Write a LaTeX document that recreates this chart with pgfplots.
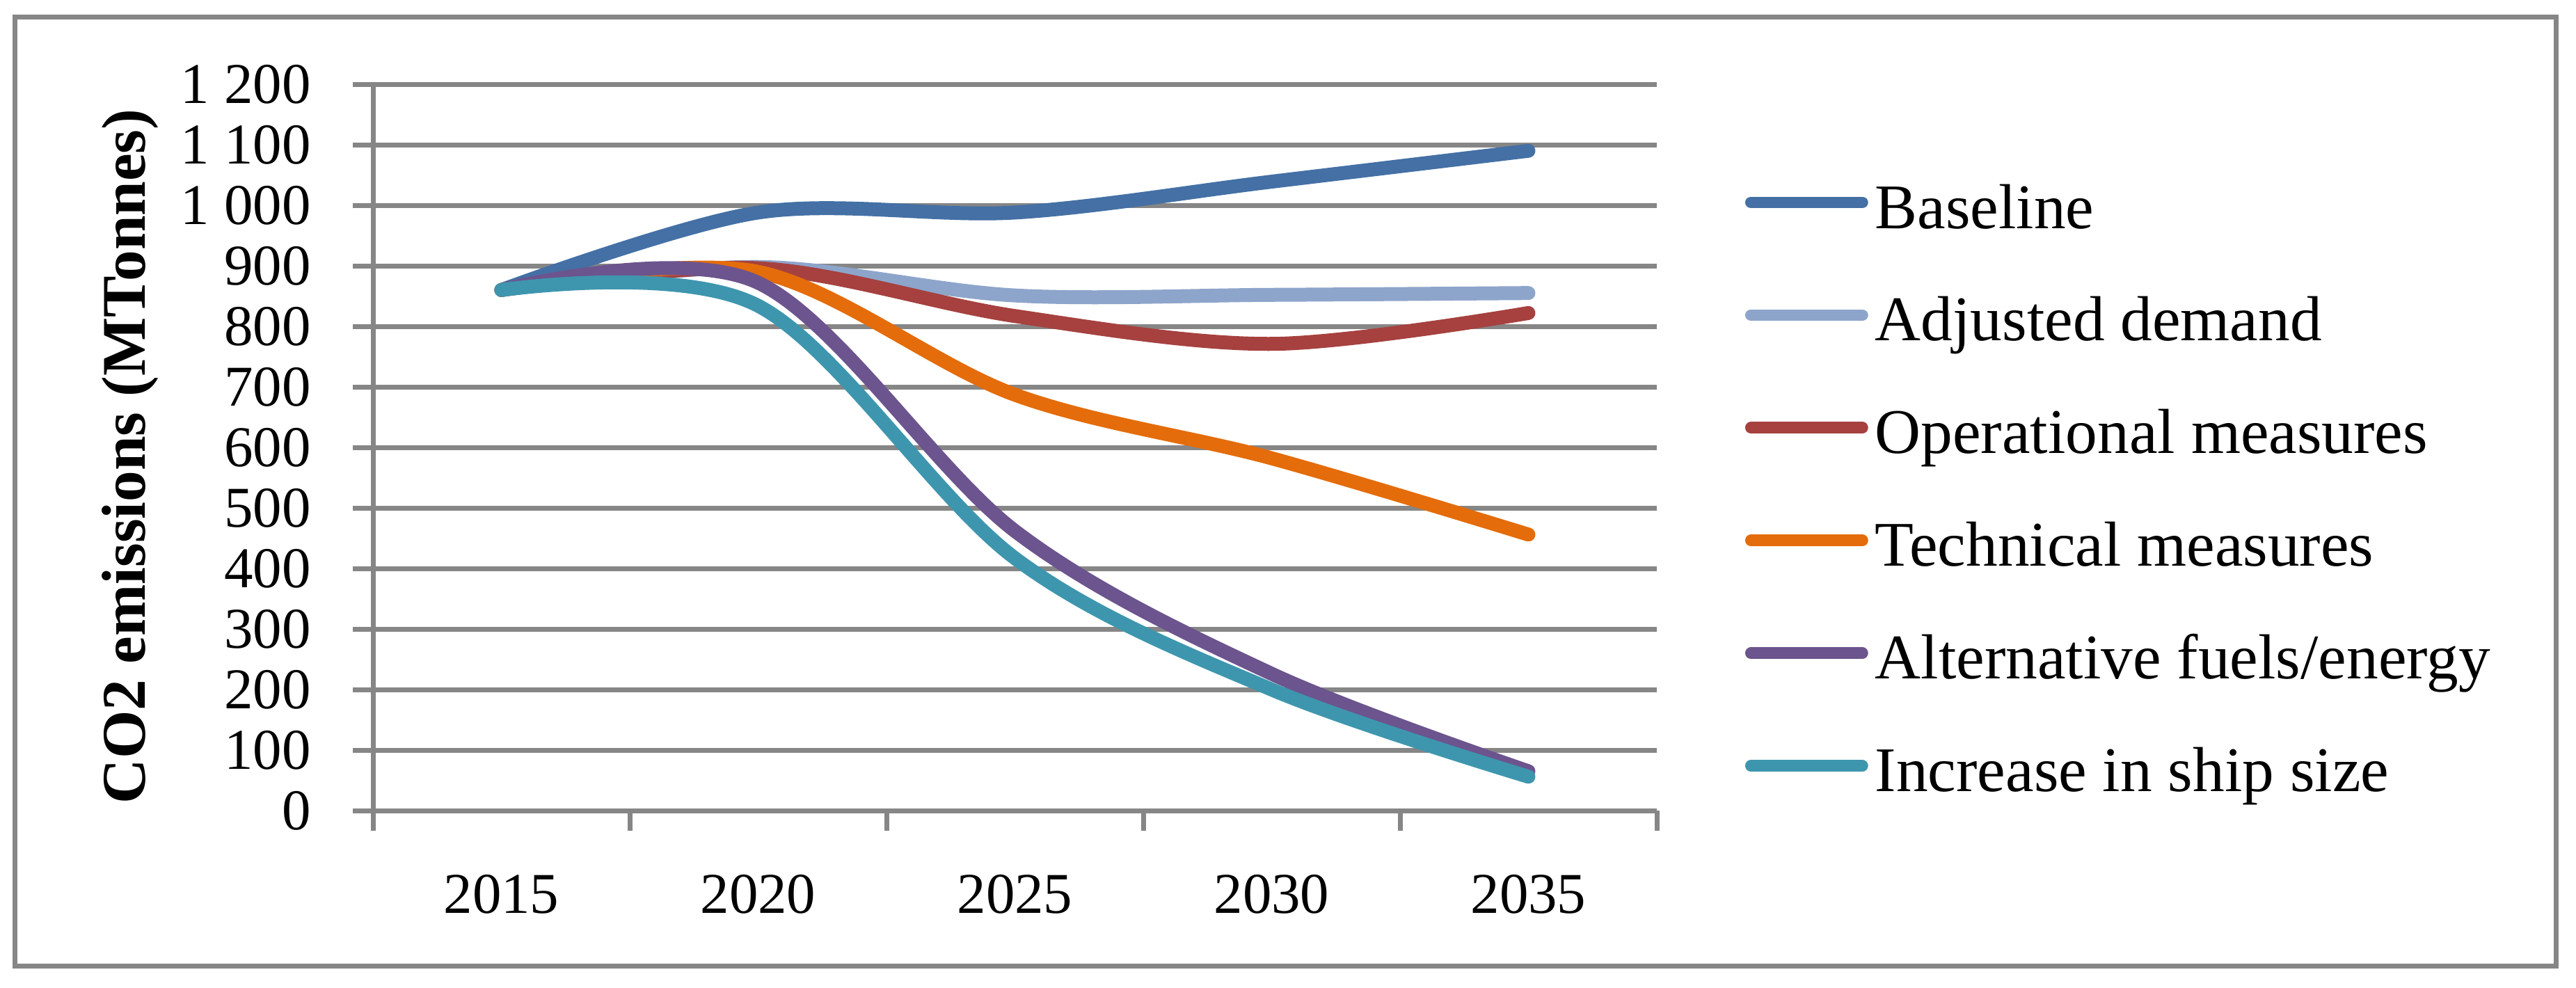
\documentclass[border=0pt]{standalone}
\usepackage{pgfplots}
\pgfplotsset{compat=1.18}
\usepackage{fontspec}
\setmainfont{Liberation Serif}

\definecolor{cBaseline}{RGB}{68,112,165}
\definecolor{cAdjusted}{RGB}{142,165,203}
\definecolor{cOperational}{RGB}{166,65,63}
\definecolor{cTechnical}{RGB}{228,108,10}
\definecolor{cAlternative}{RGB}{108,84,142}
\definecolor{cShipsize}{RGB}{62,150,174}
\definecolor{gridgray}{RGB}{134,134,134}

% fixed row box for legend entries
\newcommand\lstrut{\rule[-1.59mm]{0pt}{5.29mm}}

\begin{document}
\begin{tikzpicture}
\useasboundingbox (0,0) rectangle (185.1mm,70.95mm);
\begin{axis}[
  at={(26.8mm,12.7mm)}, anchor=south west,
  scale only axis, width=92.25mm, height=52.2mm,
  xmin=0, xmax=5, ymin=0, ymax=1200,
  xtick={0,1,2,3,4,5},
  x tick label as interval,
  xticklabels={2015,2020,2025,2030,2035},
  ytick={0,100,...,1200},
  axis lines*=left,
  axis line style={-, gridgray, line width=0.35mm},
  tick align=outside,
  major tick length=1.45mm,
  tick style={gridgray, line width=0.35mm},
  ymajorgrids,
  grid style={gridgray, line width=0.35mm},
  /pgf/number format/assume math mode=true,
  /pgf/number format/1000 sep={\ },
  ticklabel style={font=\fontsize{11.8}{14}\selectfont},
  xticklabel style={inner sep=0pt, anchor=north, yshift=-3.1mm},
  yticklabel style={inner sep=0pt, anchor=east, xshift=-2.95mm},
  ylabel={CO2 emissions (MTonnes)},
  ylabel style={font=\fontsize{12.7}{15}\selectfont\bfseries,
    at={(axis description cs:-0.1892,0.4876)}, anchor=center},
  every axis plot/.append style={line width=1mm, line cap=round, line join=round, smooth, tension=0.55},
  legend style={draw=none, fill=none, inner sep=0pt, outer sep=0pt,
    at={(1.0688,0.8726)}, anchor=north west,
    font=\fontsize{13}{15}\selectfont,
    row sep=3.87mm, column sep=0.5mm,
    nodes={inner sep=0pt, outer sep=0pt}},
  legend cell align=left,
  legend image code/.code={\draw[#1, line width=0.83mm, line cap=round] (0.42mm,0.27mm) -- (8.43mm,0.27mm);},
]
\addplot[cBaseline] coordinates {(0.5,860) (1.5,988) (2.5,988) (3.5,1039) (4.5,1090)};
\addlegendentry{\lstrut Baseline}
\addplot[cAdjusted] coordinates {(0.5,860) (1.5,898) (2.5,851) (3.5,852) (4.5,855)};
\addlegendentry{\lstrut Adjusted demand}
\addplot[cOperational] coordinates {(0.5,860) (1.5,896) (2.5,817) (3.5,771) (4.5,822)};
\addlegendentry{\lstrut Operational measures}
\addplot[cTechnical] coordinates {(0.5,860) (1.5,890) (2.5,687) (3.5,582) (4.5,456)};
\addlegendentry{\lstrut Technical measures}
\addplot[cAlternative] coordinates {(0.5,860) (1.5,872) (2.5,462) (3.5,226) (4.5,65)};
\addlegendentry{\lstrut Alternative fuels/energy}
\addplot[cShipsize] coordinates {(0.5,860) (1.5,834) (2.5,417) (3.5,200) (4.5,56)};
\addlegendentry{\lstrut Increase in ship size}
\end{axis}
\draw[gridgray, line width=0.35mm] (1.05mm,1.55mm) rectangle (183.65mm,69.73mm);
\end{tikzpicture}
\end{document}
